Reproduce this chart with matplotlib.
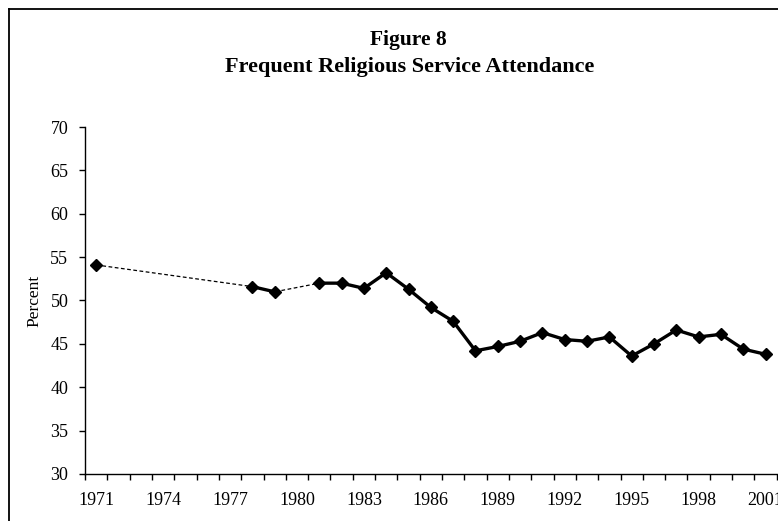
import matplotlib
matplotlib.use('Agg')
import matplotlib.pyplot as plt
import numpy as np
from matplotlib.lines import Line2D

plt.rcParams['font.family'] = ['Liberation Serif', 'DejaVu Serif']

years = list(range(1971, 2002))
percent = [54.1, None, None, None, None, None, None, 51.6, 51.0, None,
           52.0, 52.0, 51.4, 53.2, 51.3, 49.2, 47.6, 44.2, 44.7, 45.3,
           46.3, 45.5, 45.3, 45.8, 43.6, 45.0, 46.6, 45.8, 46.1, 44.4, 43.8]
y_ticks = [30, 35, 40, 45, 50, 55, 60, 65, 70]
title_top = "Figure 8"
title_main = "Frequent Religious Service Attendance"

vals = np.array([np.nan if v is None else v for v in percent], dtype=float)
idx = np.arange(len(years))
have = ~np.isnan(vals)

fig = plt.figure(figsize=(7.78, 5.21), dpi=100)
ax = fig.add_axes([85 / 778, 1 - 474 / 521, (776.7 - 85) / 778, (474 - 127) / 521])

# dashed connection over missing years, solid where years are consecutive
ax.plot(idx[have], vals[have], color='black', lw=0.9, ls=(0, (3, 2)))
ax.plot(idx, vals, color='black', lw=2.4, solid_joinstyle='round')
ax.plot(idx[have], vals[have], ls='none', marker='D', ms=6.5, color='black')

ax.set_xlim(-0.5, len(years) - 0.5)
ax.set_ylim(30, 70)
ax.set_yticks(y_ticks)
ax.set_yticklabels([str(t) for t in y_ticks])
ax.set_xticks(idx[::3])
ax.set_xticklabels([str(y) for y in years[::3]])
ax.set_xticks(np.arange(-0.5, len(years), 1), minor=True)
ax.tick_params(axis='x', which='major', length=0, pad=13, labelsize=13)
ax.tick_params(axis='x', which='minor', length=4, width=1, direction='out')
ax.tick_params(axis='y', length=4, width=1, pad=8, labelsize=13)

for side in ['top', 'right']:
    ax.spines[side].set_visible(False)
for side in ['left', 'bottom']:
    ax.spines[side].set_linewidth(1)
ax.spines['bottom'].set_bounds(-0.5, len(years) - 0.5)

ax.set_ylabel('Percent', fontsize=12.5)
ax.yaxis.set_label_coords(-0.062, 0.5)
ax.patch.set_visible(False)

fig.text(408 / 778, 1 - 40 / 521, title_top, ha='center', va='center',
         fontsize=15.5, fontweight='bold')
fig.text(410 / 778, 1 - 67 / 521, title_main, ha='center', va='center',
         fontsize=16, fontweight='bold')

# page frame (top and left edges)
fig.add_artist(Line2D([9 / 778, 9 / 778], [0, 1 - 9 / 521], transform=fig.transFigure,
                      color='black', lw=1.3))
fig.add_artist(Line2D([9 / 778, 1], [1 - 9 / 521, 1 - 9 / 521], transform=fig.transFigure,
                      color='black', lw=1.3))

fig.savefig('out.png', dpi=100)
